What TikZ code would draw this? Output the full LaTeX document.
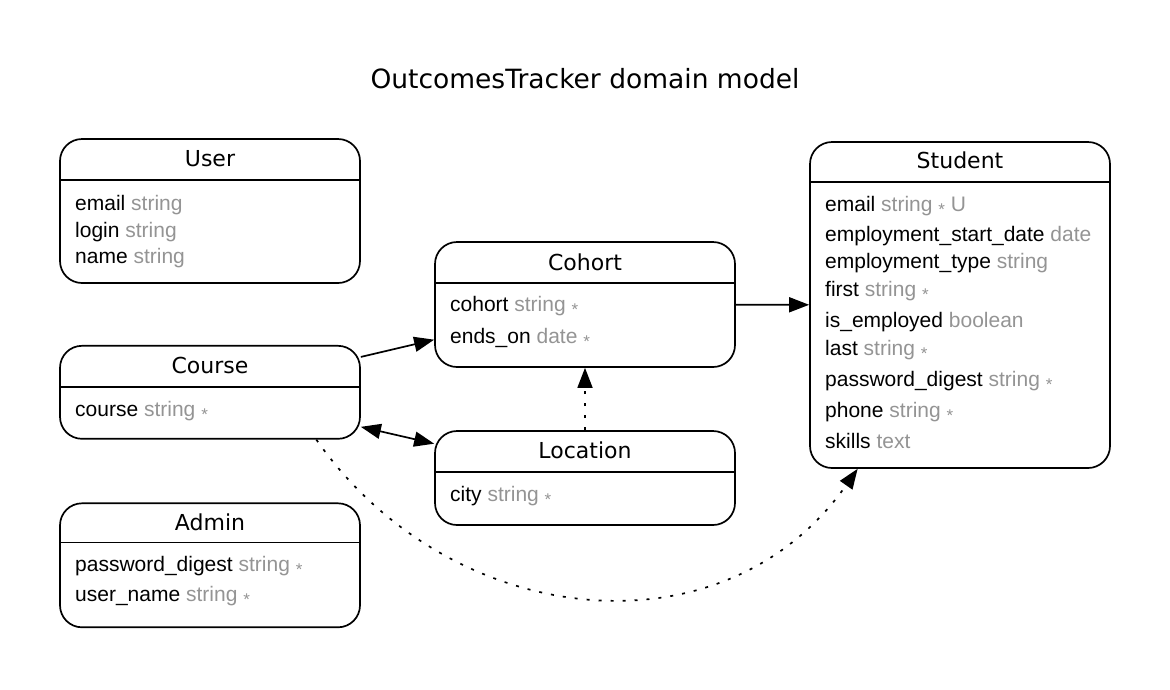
\documentclass[tikz,border=0pt]{standalone}
\usepackage{fontspec}
\setmainfont{Liberation Sans}
\newfontfamily\headfont{DejaVu Sans}
\usepackage{tikz}
\usetikzlibrary{arrows.meta,positioning,calc}
\definecolor{typegray}{gray}{0.58}
\newcommand{\attype}[1]{\textcolor{typegray}{#1}}
\newcommand{\reqmark}{\textcolor{typegray}{\raisebox{-4pt}{\fontsize{17}{17}\selectfont *}}}

\begin{document}
\begin{tikzpicture}[x=1pt, y=1pt,
  font=\fontsize{21}{21}\selectfont,
  entity/.style={draw,line width=1.7pt,rounded corners=22pt,minimum width=300pt,inner sep=0pt},
  ehead/.style={font=\headfont\fontsize{22}{22}\selectfont,inner sep=0pt},
  attr/.style={anchor=base west,inner sep=0pt},
  sep/.style={line width=1.7pt},
  arr/.style={-{Triangle[length=20pt,width=15pt]},line width=1.7pt},
  dots/.style={arr,dash pattern=on 3pt off 9pt}]
\useasboundingbox (0,0) rectangle (1170,-689);
\node[font=\headfont\fontsize{26.5}{26.5}\selectfont,anchor=base,inner sep=0pt](title) at (585,-88.3){OutcomesTracker domain model};
% entities
\node[entity,minimum height=144pt](user) at (210,-211){};
\node[entity,minimum height=93pt](course) at (210,-392.3){};
\node[entity,minimum height=124pt](admin) at (210,-565.3){};
\node[entity,minimum height=125pt](cohort) at (585,-304.5){};
\node[entity,minimum height=94pt](location) at (585,-478){};
\node[entity,minimum height=326pt](student) at (960,-305){};
% header lines
\draw[sep]([yshift=-42pt]user.north west)--([yshift=-42pt]user.north east);
\draw[sep]([yshift=-42pt]course.north west)--([yshift=-42pt]course.north east);
\draw[sep]([yshift=-40pt]admin.north west)--([yshift=-40pt]admin.north east);
\draw[sep]([yshift=-42pt]cohort.north west)--([yshift=-42pt]cohort.north east);
\draw[sep]([yshift=-42pt]location.north west)--([yshift=-42pt]location.north east);
\draw[sep]([yshift=-41pt]student.north west)--([yshift=-41pt]student.north east);
% names
\node[ehead](user-name) at (210,-159){User};
\node[ehead](course-name) at (210,-365.7){Course};
\node[ehead](admin-name) at (210,-522){Admin};
\node[ehead](cohort-name) at (585,-262){Cohort};
\node[ehead](location-name) at (585,-450){Location};
\node[ehead](student-name) at (960,-160.7){Student};
% attributes
\node[attr](user-email) at (75,-210){email \attype{string}};
\node[attr](user-login) at (75,-237){login \attype{string}};
\node[attr](user-uname) at (75,-263){name \attype{string}};
\node[attr](course-course) at (75,-416){course \attype{string} \reqmark};
\node[attr](admin-pw) at (75,-571.7){password\_digest \attype{string} \reqmark};
\node[attr](admin-user) at (75,-601.7){user\_name \attype{string} \reqmark};
\node[attr](cohort-cohort) at (450,-311.7){cohort \attype{string} \reqmark};
\node[attr](cohort-ends) at (450,-343){ends\_on \attype{date} \reqmark};
\node[attr](location-city) at (450,-501.7){city \attype{string} \reqmark};
\node[attr](student-email) at (825,-211.7){email \attype{string} \reqmark{} \attype{U}};
\node[attr](student-start) at (825,-241.7){employment\_start\_date \attype{date}};
\node[attr](student-type) at (825,-268.3){employment\_type \attype{string}};
\node[attr](student-first) at (825,-296.7){first \attype{string} \reqmark};
\node[attr](student-emp) at (825,-327.3){is\_employed \attype{boolean}};
\node[attr](student-last) at (825,-355){last \attype{string} \reqmark};
\node[attr](student-pw) at (825,-386.7){password\_digest \attype{string} \reqmark};
\node[attr](student-phone) at (825,-417.3){phone \attype{string} \reqmark};
\node[attr](student-skills) at (825,-448.3){skills \attype{text}};
% relations
\draw[arr](course)--(cohort);
\draw[arr](cohort)--(student);
\draw[dots](location)--(cohort);
\draw[arr,{Triangle[length=20pt,width=15pt]}-{Triangle[length=20pt,width=15pt]}](course)--(location);
\draw[dots](course.-24)to[out=-55,in=-125,looseness=1.1](student.-122);
\end{tikzpicture}
\end{document}
